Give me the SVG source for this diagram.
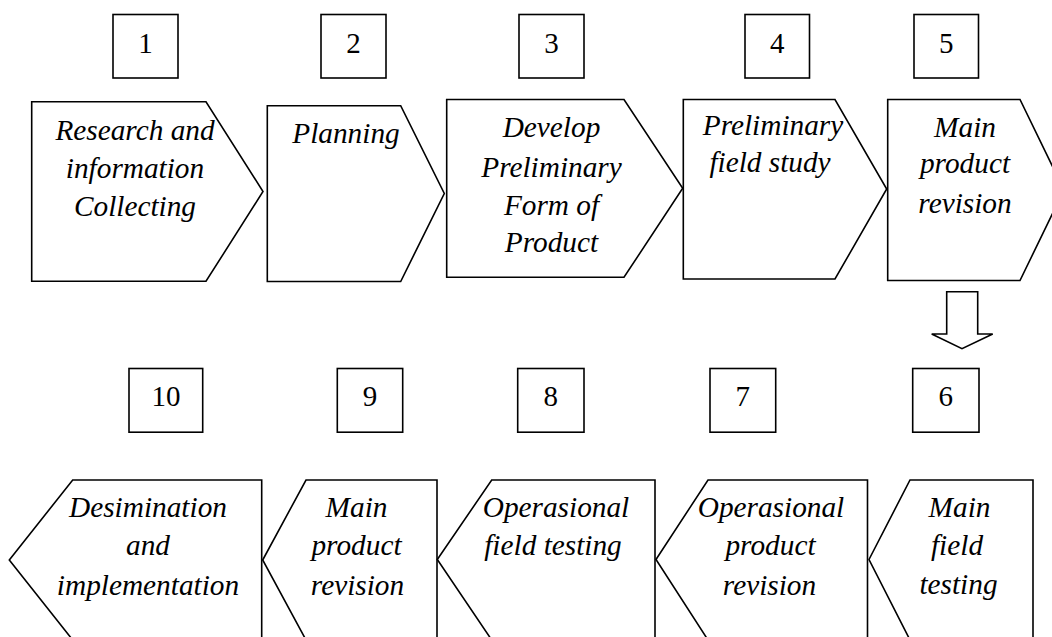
<svg xmlns="http://www.w3.org/2000/svg" width="1052" height="637" viewBox="0 0 1052 637">
<style>
.shape{fill:#fff;stroke:#000;stroke-width:1.6;stroke-linejoin:miter}
.lbl{font-family:"Liberation Serif","Times New Roman",serif;font-style:italic;font-size:29.3px;fill:#000;text-anchor:middle}
.num{font-family:"Liberation Serif","Times New Roman",serif;font-size:29px;fill:#000;text-anchor:middle}
</style>
<rect width="1052" height="637" fill="#fff"/>
<g id="num1"><rect class="shape" x="113" y="14.5" width="65" height="63.5"/><text class="num" x="145.5" y="53">1</text></g>
<g id="num2"><rect class="shape" x="321" y="14.5" width="65" height="63.5"/><text class="num" x="353.5" y="53">2</text></g>
<g id="num3"><rect class="shape" x="519" y="14.5" width="65" height="63.5"/><text class="num" x="551.5" y="53">3</text></g>
<g id="num4"><rect class="shape" x="745" y="14.5" width="64.5" height="63.5"/><text class="num" x="777.2" y="53">4</text></g>
<g id="num5"><rect class="shape" x="914" y="14.5" width="64.5" height="63.5"/><text class="num" x="946.2" y="53">5</text></g>

<g id="step1"><polygon class="shape" points="31.7,101.7 206,101.7 263,191.5 206,281.3 31.7,281.3"/>
<text class="lbl" x="135" y="140">Research and</text><text class="lbl" x="135" y="177.5">information</text><text class="lbl" x="135" y="216">Collecting</text></g>
<g id="step2"><polygon class="shape" points="267.3,105.7 400.7,105.7 444.3,193.5 400.7,281.5 267.3,281.5"/>
<text class="lbl" x="346" y="143.3">Planning</text></g>
<g id="step3"><polygon class="shape" points="446.7,99.5 624,99.5 682.7,188.3 624,277.3 446.7,277.3"/>
<text class="lbl" x="551.5" y="136.7">Develop</text><text class="lbl" x="551.5" y="176.7">Preliminary</text><text class="lbl" x="551.5" y="215">Form of</text><text class="lbl" x="551.5" y="252.3">Product</text></g>
<g id="step4"><polygon class="shape" points="683.3,99.5 835,99.5 886.7,189 835,279 683.3,279"/>
<text class="lbl" x="773" y="135">Preliminary</text><text class="lbl" x="770" y="171.7">field study</text></g>
<g id="step5"><polygon class="shape" points="887.7,99.5 1020,99.5 1064,190 1020,280.5 887.7,280.5"/>
<text class="lbl" x="965" y="136.7">Main</text><text class="lbl" x="965" y="173">product</text><text class="lbl" x="965" y="213">revision</text></g>

<g id="connectors"><polygon class="shape" points="946.7,291.7 977.7,291.7 977.7,334 992.7,334 962,348.7 931.7,334 946.7,334"/></g>

<g id="num10"><rect class="shape" x="129" y="368.5" width="73.7" height="63.7"/><text class="num" x="166" y="406">10</text></g>
<g id="num9"><rect class="shape" x="337.3" y="368.5" width="65.4" height="63.7"/><text class="num" x="370" y="406">9</text></g>
<g id="num8"><rect class="shape" x="517.7" y="368.5" width="66.3" height="63.7"/><text class="num" x="550.8" y="406">8</text></g>
<g id="num7"><rect class="shape" x="710" y="368.5" width="65.7" height="63.7"/><text class="num" x="742.8" y="406">7</text></g>
<g id="num6"><rect class="shape" x="912.7" y="368.5" width="66.3" height="63.7"/><text class="num" x="945.8" y="406">6</text></g>

<g id="step10"><polygon class="shape" points="9.3,560 72.7,480 261.7,480 261.7,640 72.7,640"/>
<text class="lbl" x="148" y="516.7">Desimination</text><text class="lbl" x="148" y="555">and</text><text class="lbl" x="148" y="594.5">implementation</text></g>
<g id="step9"><polygon class="shape" points="262.7,560 306,480 437,480 437,640 306,640"/>
<text class="lbl" x="356.5" y="516.7">Main</text><text class="lbl" x="356.5" y="555">product</text><text class="lbl" x="357.5" y="594.5">revision</text></g>
<g id="step8"><polygon class="shape" points="437.3,559.5 491.7,480 655,480 655,640 491.7,640"/>
<text class="lbl" x="556" y="516.7">Operasional</text><text class="lbl" x="553" y="555">field testing</text></g>
<g id="step7"><polygon class="shape" points="656,559.5 708,480 867.5,480 867.5,640 708,640"/>
<text class="lbl" x="771" y="516.7">Operasional</text><text class="lbl" x="770.5" y="555">product</text><text class="lbl" x="769.5" y="594.5">revision</text></g>
<g id="step6"><polygon class="shape" points="869,559.5 910,480 1033,480 1033,640 910,640"/>
<text class="lbl" x="959.5" y="516.7">Main</text><text class="lbl" x="957" y="555">field</text><text class="lbl" x="958.5" y="593.5">testing</text></g>
</svg>
